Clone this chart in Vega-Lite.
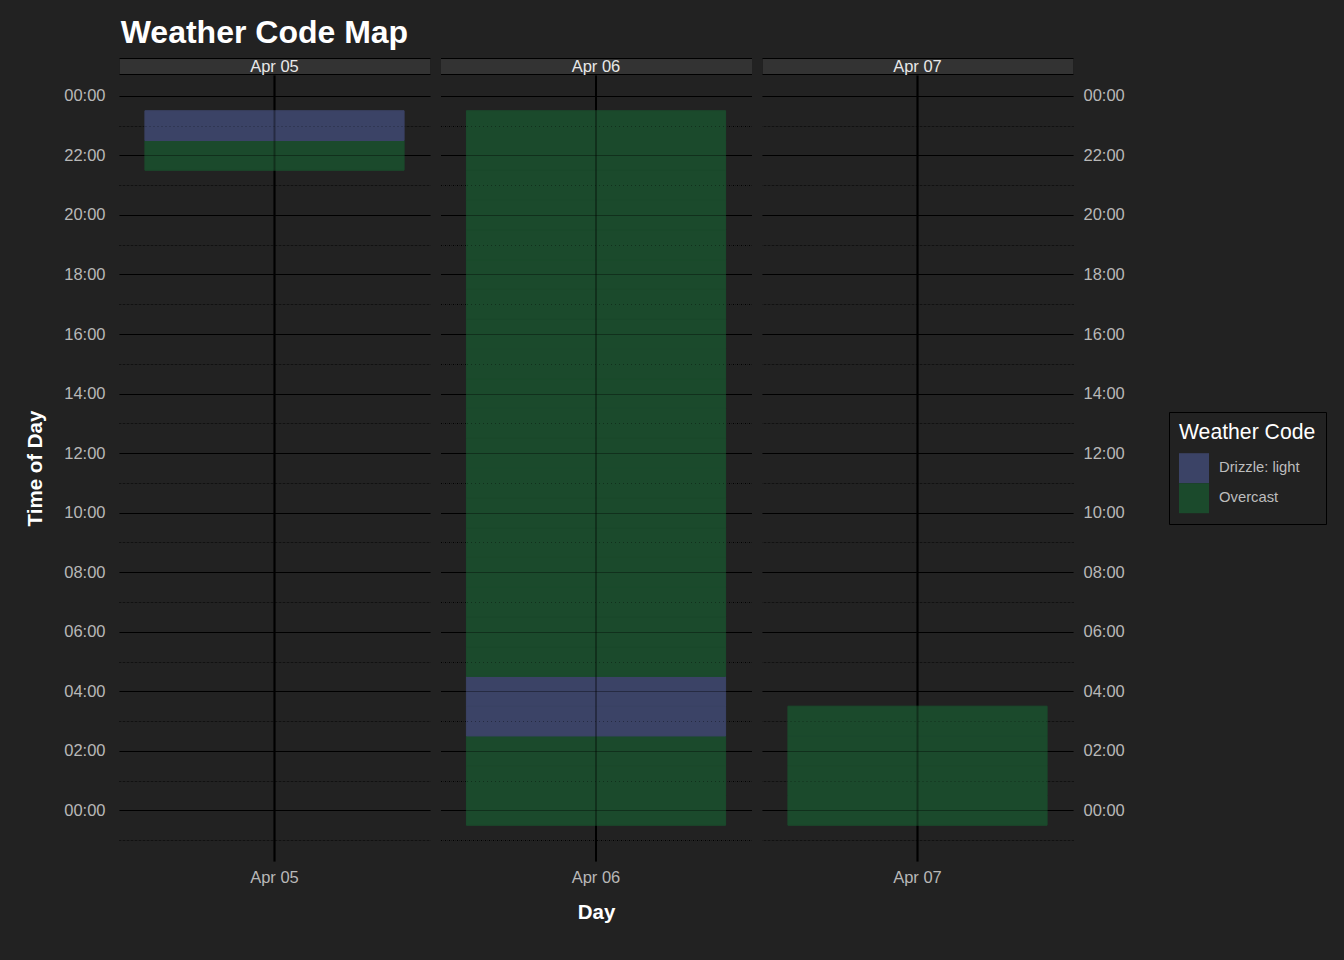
{
  "$schema": "https://vega.github.io/schema/vega-lite/v6.json",
  "background": "#222222",
  "padding": {"left": 25, "top": 17, "right": 18, "bottom": 37},
  "title": {"text": "Weather Code Map", "anchor": "start", "fontSize": 32, "fontWeight": "bold", "color": "white", "offset": 8, "dx": 95, "font": "Liberation Sans"},
  "data": {"values": [
    {"day": "Apr 05", "hour": 22, "code": "Overcast"},
    {"day": "Apr 05", "hour": 23, "code": "Drizzle: light"},
    {"day": "Apr 06", "hour": 0, "code": "Overcast"},
    {"day": "Apr 06", "hour": 1, "code": "Overcast"},
    {"day": "Apr 06", "hour": 2, "code": "Overcast"},
    {"day": "Apr 06", "hour": 3, "code": "Drizzle: light"},
    {"day": "Apr 06", "hour": 4, "code": "Drizzle: light"},
    {"day": "Apr 06", "hour": 5, "code": "Overcast"},
    {"day": "Apr 06", "hour": 6, "code": "Overcast"},
    {"day": "Apr 06", "hour": 7, "code": "Overcast"},
    {"day": "Apr 06", "hour": 8, "code": "Overcast"},
    {"day": "Apr 06", "hour": 9, "code": "Overcast"},
    {"day": "Apr 06", "hour": 10, "code": "Overcast"},
    {"day": "Apr 06", "hour": 11, "code": "Overcast"},
    {"day": "Apr 06", "hour": 12, "code": "Overcast"},
    {"day": "Apr 06", "hour": 13, "code": "Overcast"},
    {"day": "Apr 06", "hour": 14, "code": "Overcast"},
    {"day": "Apr 06", "hour": 15, "code": "Overcast"},
    {"day": "Apr 06", "hour": 16, "code": "Overcast"},
    {"day": "Apr 06", "hour": 17, "code": "Overcast"},
    {"day": "Apr 06", "hour": 18, "code": "Overcast"},
    {"day": "Apr 06", "hour": 19, "code": "Overcast"},
    {"day": "Apr 06", "hour": 20, "code": "Overcast"},
    {"day": "Apr 06", "hour": 21, "code": "Overcast"},
    {"day": "Apr 06", "hour": 22, "code": "Overcast"},
    {"day": "Apr 06", "hour": 23, "code": "Overcast"},
    {"day": "Apr 07", "hour": 0, "code": "Overcast"},
    {"day": "Apr 07", "hour": 1, "code": "Overcast"},
    {"day": "Apr 07", "hour": 2, "code": "Overcast"},
    {"day": "Apr 07", "hour": 3, "code": "Overcast"}
  ]},
  "spacing": 10.5,
  "resolve": {"scale": {"x": "independent", "y": "independent", "color": "shared", "stroke": "shared"}},
  "hconcat": [
    {
      "width": 311, "height": 786,
      "transform": [{"filter": "datum.day == 'Apr 05'"}, {"calculate": "datum.hour - 0.5", "as": "t0"}, {"calculate": "datum.hour + 0.5", "as": "t1"}],
      "layer": [
        {
          "mark": {"type": "rect", "strokeWidth": 1},
          "encoding": {
            "x": {"field": "day", "type": "nominal", "scale": {"paddingOuter": 0.1, "paddingInner": 0},
              "axis": {"orient": "bottom", "zindex": 0, "title": null, "grid": true, "gridColor": "black", "gridWidth": 2, "bandPosition": 0.5, "ticks": false, "tickSize": 0, "domain": false, "labelAngle": 0, "labelPadding": 8, "labelColor": "#b8b8b8", "labelFontSize": 16.5}},
            "y": {"field": "t0", "type": "quantitative", "scale": {"domain": [-1.7, 24.7], "nice": false, "zero": false},
              "axis": {"orient": "left", "zindex": 0, "values": [-1,0,1,2,3,4,5,6,7,8,9,10,11,12,13,14,15,16,17,18,19,20,21,22,23,24],
                "labelExpr": "datum.value >= 0 && datum.value % 2 == 0 ? format(datum.value % 24, '02d') + ':00' : ''",
                "grid": true, "gridColor": "black", "gridWidth": 1,
                "gridDash": {"condition": {"test": "datum.value % 2 != 0", "value": [1, 3]}, "value": []},
                "ticks": false, "tickSize": 0, "domain": false, "labelColor": "#b8b8b8", "labelFontSize": 16.5, "labelPadding": 14, "labelOverlap": false,
                "title": "Time of Day", "titleColor": "white", "titleFontSize": 20.5, "titleFontWeight": "bold", "titlePadding": 18}},
            "y2": {"field": "t1"},
            "color": {"field": "code", "type": "nominal", "scale": {"domain": ["Drizzle: light", "Overcast"], "range": ["#3b4366", "#1b4a2c"]},
              "legend": {"title": "Weather Code", "orient": "none", "legendX": 1050, "legendY": 337, "titleFontSize": 21.2, "titleFontWeight": "normal", "titleColor": "white", "titlePadding": 10, "labelFontSize": 14.8, "labelColor": "#bdbdbd", "labelOffset": 10, "symbolType": "square", "symbolSize": 900, "symbolStrokeWidth": 0, "rowPadding": 0, "strokeColor": "black", "padding": 10, "fillColor": "#222222"}},
            "stroke": {"field": "code", "type": "nominal", "scale": {"domain": ["Drizzle: light", "Overcast"], "range": ["#3b4366", "#1b4a2c"]}, "legend": null}
          }
        },
        {
          "mark": {"type": "rect", "opacity": 0},
          "encoding": {"x": {"field": "day", "type": "nominal", "axis": {"orient": "top", "title": null, "labels": false, "ticks": false, "tickSize": 0, "grid": false, "domain": true, "domainColor": "black", "domainWidth": 17, "offset": 9}}}
        },
        {
          "mark": {"type": "rect", "opacity": 0},
          "encoding": {"x": {"field": "day", "type": "nominal", "axis": {"orient": "top", "title": null, "labels": false, "ticks": false, "tickSize": 0, "grid": false, "domain": true, "domainColor": "#333333", "domainWidth": 15, "offset": 9}}}
        },
        {
          "mark": {"type": "rect", "opacity": 0},
          "encoding": {"x": {"field": "day", "type": "nominal", "axis": {"orient": "top", "title": null, "labels": true, "ticks": false, "tickSize": 0, "grid": false, "domain": false, "offset": 9, "zindex": 2, "bandPosition": 0.5, "labelBaseline": "middle", "labelPadding": 0, "labelColor": "#e8e8e8", "labelFontSize": 16.5, "labelAngle": 0}}}
        },
        {
          "mark": {"type": "rect", "opacity": 0},
          "encoding": {
            "x": {"field": "day", "type": "nominal", "axis": {"orient": "bottom", "title": null, "labels": false, "ticks": false, "domain": false, "grid": true, "gridColor": "black", "gridWidth": 2, "gridOpacity": 0.35, "bandPosition": 0.5, "zindex": 1, "minExtent": 0, "maxExtent": 0}},
            "y": {"field": "t0", "type": "quantitative", "axis": {"orient": "right", "values": [-1,0,1,2,3,4,5,6,7,8,9,10,11,12,13,14,15,16,17,18,19,20,21,22,23,24], "labels": false, "ticks": false, "domain": false, "title": null, "grid": true, "gridColor": "black", "gridWidth": 1, "gridOpacity": 0.35, "gridDash": {"condition": {"test": "datum.value % 2 != 0", "value": [1, 3]}, "value": []}, "zindex": 1, "minExtent": 0, "maxExtent": 0}},
            "y2": {"field": "t1"}
          }
        }
      ]
    },
    {
      "width": 311, "height": 786,
      "transform": [{"filter": "datum.day == 'Apr 06'"}, {"calculate": "datum.hour - 0.5", "as": "t0"}, {"calculate": "datum.hour + 0.5", "as": "t1"}],
      "layer": [
        {
          "mark": {"type": "rect", "strokeWidth": 1},
          "encoding": {
            "x": {"field": "day", "type": "nominal", "scale": {"paddingOuter": 0.1, "paddingInner": 0},
              "axis": {"orient": "bottom", "zindex": 0, "title": "Day", "titleColor": "white", "titleFontSize": 20.5, "titleFontWeight": "bold", "titlePadding": 17, "grid": true, "gridColor": "black", "gridWidth": 2, "bandPosition": 0.5, "ticks": false, "tickSize": 0, "domain": false, "labelAngle": 0, "labelPadding": 8, "labelColor": "#b8b8b8", "labelFontSize": 16.5}},
            "y": {"field": "t0", "type": "quantitative", "scale": {"domain": [-1.7, 24.7], "nice": false, "zero": false},
              "axis": {"orient": "left", "zindex": 0, "values": [-1,0,1,2,3,4,5,6,7,8,9,10,11,12,13,14,15,16,17,18,19,20,21,22,23,24],
                "labels": false, "grid": true, "gridColor": "black", "gridWidth": 1,
                "gridDash": {"condition": {"test": "datum.value % 2 != 0", "value": [1, 3]}, "value": []},
                "ticks": false, "tickSize": 0, "domain": false, "title": null}},
            "y2": {"field": "t1"},
            "color": {"field": "code", "type": "nominal"},
            "stroke": {"field": "code", "type": "nominal", "legend": null}
          }
        },
        {
          "mark": {"type": "rect", "opacity": 0},
          "encoding": {"x": {"field": "day", "type": "nominal", "axis": {"orient": "top", "title": null, "labels": false, "ticks": false, "tickSize": 0, "grid": false, "domain": true, "domainColor": "black", "domainWidth": 17, "offset": 9}}}
        },
        {
          "mark": {"type": "rect", "opacity": 0},
          "encoding": {"x": {"field": "day", "type": "nominal", "axis": {"orient": "top", "title": null, "labels": false, "ticks": false, "tickSize": 0, "grid": false, "domain": true, "domainColor": "#333333", "domainWidth": 15, "offset": 9}}}
        },
        {
          "mark": {"type": "rect", "opacity": 0},
          "encoding": {"x": {"field": "day", "type": "nominal", "axis": {"orient": "top", "title": null, "labels": true, "ticks": false, "tickSize": 0, "grid": false, "domain": false, "offset": 9, "zindex": 2, "bandPosition": 0.5, "labelBaseline": "middle", "labelPadding": 0, "labelColor": "#e8e8e8", "labelFontSize": 16.5, "labelAngle": 0}}}
        },
        {
          "mark": {"type": "rect", "opacity": 0},
          "encoding": {
            "x": {"field": "day", "type": "nominal", "axis": {"orient": "bottom", "title": null, "labels": false, "ticks": false, "domain": false, "grid": true, "gridColor": "black", "gridWidth": 2, "gridOpacity": 0.35, "bandPosition": 0.5, "zindex": 1, "minExtent": 0, "maxExtent": 0}},
            "y": {"field": "t0", "type": "quantitative", "axis": {"orient": "right", "values": [-1,0,1,2,3,4,5,6,7,8,9,10,11,12,13,14,15,16,17,18,19,20,21,22,23,24], "labels": false, "ticks": false, "domain": false, "title": null, "grid": true, "gridColor": "black", "gridWidth": 1, "gridOpacity": 0.35, "gridDash": {"condition": {"test": "datum.value % 2 != 0", "value": [1, 3]}, "value": []}, "zindex": 1, "minExtent": 0, "maxExtent": 0}},
            "y2": {"field": "t1"}
          }
        }
      ]
    },
    {
      "width": 311, "height": 786,
      "transform": [{"filter": "datum.day == 'Apr 07'"}, {"calculate": "datum.hour - 0.5", "as": "t0"}, {"calculate": "datum.hour + 0.5", "as": "t1"}],
      "layer": [
        {
          "mark": {"type": "rect", "strokeWidth": 1},
          "encoding": {
            "x": {"field": "day", "type": "nominal", "scale": {"paddingOuter": 0.1, "paddingInner": 0},
              "axis": {"orient": "bottom", "zindex": 0, "title": null, "grid": true, "gridColor": "black", "gridWidth": 2, "bandPosition": 0.5, "ticks": false, "tickSize": 0, "domain": false, "labelAngle": 0, "labelPadding": 8, "labelColor": "#b8b8b8", "labelFontSize": 16.5}},
            "y": {"field": "t0", "type": "quantitative", "scale": {"domain": [-1.7, 24.7], "nice": false, "zero": false},
              "axis": {"orient": "right", "zindex": 0, "values": [-1,0,1,2,3,4,5,6,7,8,9,10,11,12,13,14,15,16,17,18,19,20,21,22,23,24],
                "labelExpr": "datum.value >= 0 && datum.value % 2 == 0 ? format(datum.value % 24, '02d') + ':00' : ''",
                "grid": true, "gridColor": "black", "gridWidth": 1,
                "gridDash": {"condition": {"test": "datum.value % 2 != 0", "value": [1, 3]}, "value": []},
                "ticks": false, "tickSize": 0, "domain": false, "labelColor": "#b8b8b8", "labelFontSize": 16.5, "labelPadding": 10, "labelOverlap": false, "title": null}},
            "y2": {"field": "t1"},
            "color": {"field": "code", "type": "nominal"},
            "stroke": {"field": "code", "type": "nominal", "legend": null}
          }
        },
        {
          "mark": {"type": "rect", "opacity": 0},
          "encoding": {"x": {"field": "day", "type": "nominal", "axis": {"orient": "top", "title": null, "labels": false, "ticks": false, "tickSize": 0, "grid": false, "domain": true, "domainColor": "black", "domainWidth": 17, "offset": 9}}}
        },
        {
          "mark": {"type": "rect", "opacity": 0},
          "encoding": {"x": {"field": "day", "type": "nominal", "axis": {"orient": "top", "title": null, "labels": false, "ticks": false, "tickSize": 0, "grid": false, "domain": true, "domainColor": "#333333", "domainWidth": 15, "offset": 9}}}
        },
        {
          "mark": {"type": "rect", "opacity": 0},
          "encoding": {"x": {"field": "day", "type": "nominal", "axis": {"orient": "top", "title": null, "labels": true, "ticks": false, "tickSize": 0, "grid": false, "domain": false, "offset": 9, "zindex": 2, "bandPosition": 0.5, "labelBaseline": "middle", "labelPadding": 0, "labelColor": "#e8e8e8", "labelFontSize": 16.5, "labelAngle": 0}}}
        },
        {
          "mark": {"type": "rect", "opacity": 0},
          "encoding": {
            "x": {"field": "day", "type": "nominal", "axis": {"orient": "bottom", "title": null, "labels": false, "ticks": false, "domain": false, "grid": true, "gridColor": "black", "gridWidth": 2, "gridOpacity": 0.35, "bandPosition": 0.5, "zindex": 1, "minExtent": 0, "maxExtent": 0}},
            "y": {"field": "t0", "type": "quantitative", "axis": {"orient": "left", "values": [-1,0,1,2,3,4,5,6,7,8,9,10,11,12,13,14,15,16,17,18,19,20,21,22,23,24], "labels": false, "ticks": false, "domain": false, "title": null, "grid": true, "gridColor": "black", "gridWidth": 1, "gridOpacity": 0.35, "gridDash": {"condition": {"test": "datum.value % 2 != 0", "value": [1, 3]}, "value": []}, "zindex": 1, "minExtent": 0, "maxExtent": 0}},
            "y2": {"field": "t1"}
          }
        }
      ]
    }
  ],
  "config": {
    "font": "Liberation Sans",
    "view": {"stroke": null}
  }
}
